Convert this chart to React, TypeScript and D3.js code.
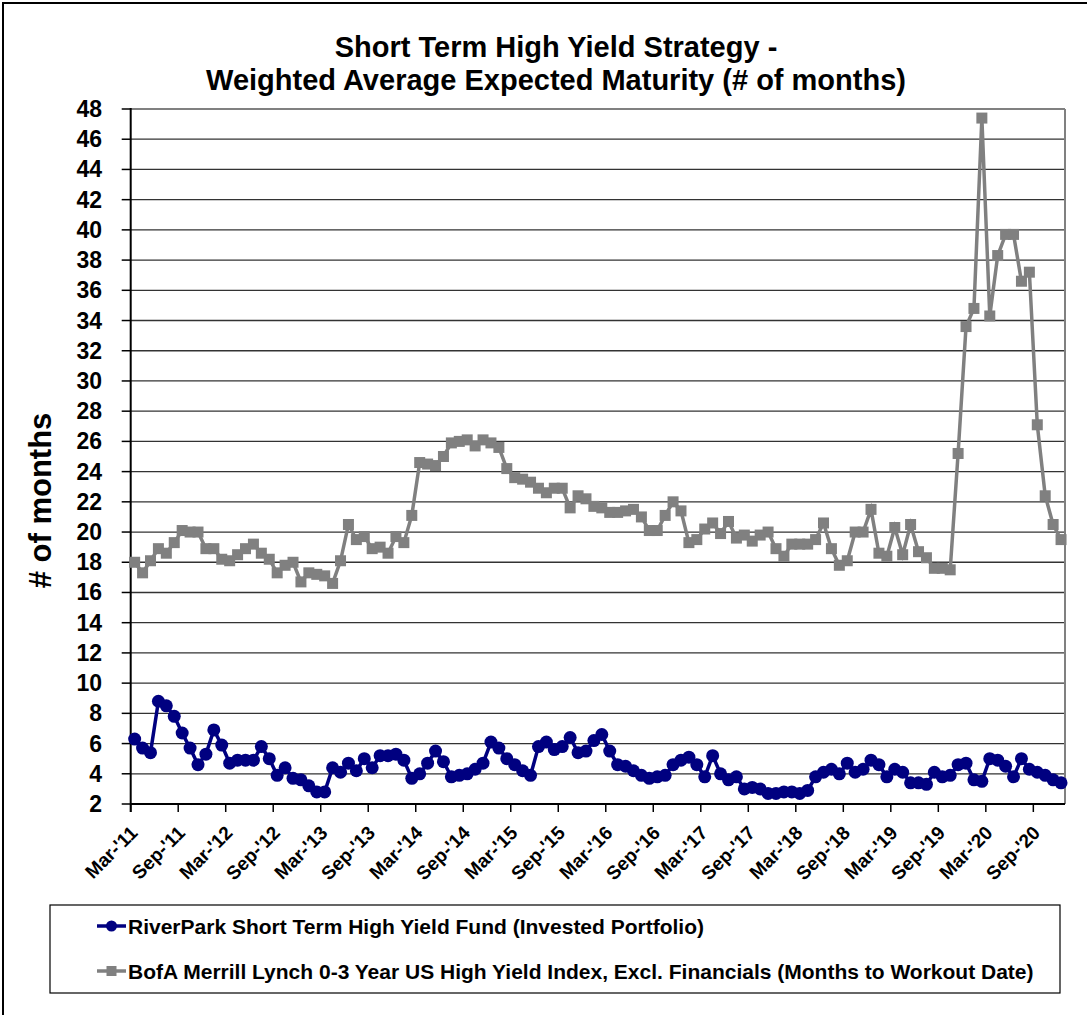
import * as d3 from 'd3'
import React, { useRef, useEffect } from 'react'

// Months Mar '11 .. Dec '20 (one point per month)
const months = d3.timeMonth.range(new Date(2011, 2, 1), new Date(2021, 0, 1))

// RiverPark Short Term High Yield Fund (Invested Portfolio)
const riverPark = [
  6.3, 5.7, 5.4, 8.8, 8.5, 7.8, 6.7, 5.7, 4.6, 5.3, 6.9, 5.9,
  4.7, 4.9, 4.9, 4.9, 5.8, 5.0, 3.9, 4.4, 3.7, 3.6, 3.2, 2.8,
  2.8, 4.4, 4.1, 4.7, 4.2, 5.0, 4.4, 5.2, 5.2, 5.3, 4.9, 3.7,
  4.0, 4.7, 5.5, 4.8, 3.8, 3.9, 4.0, 4.3, 4.7, 6.1, 5.7, 5.0,
  4.6, 4.2, 3.9, 5.8, 6.1, 5.6, 5.8, 6.4, 5.4, 5.5, 6.2, 6.6,
  5.5, 4.6, 4.5, 4.2, 3.9, 3.7, 3.8, 3.9, 4.6, 4.9, 5.1, 4.6,
  3.8, 5.2, 4.0, 3.6, 3.8, 3.0, 3.1, 3.0, 2.7, 2.7, 2.8, 2.8,
  2.7, 2.9, 3.8, 4.1, 4.3, 4.0, 4.7, 4.1, 4.3, 4.9, 4.6, 3.8,
  4.3, 4.1, 3.4, 3.4, 3.3, 4.1, 3.8, 3.9, 4.6, 4.7, 3.6, 3.5,
  5.0, 4.9, 4.5, 3.8, 5.0, 4.3, 4.1, 3.9, 3.6, 3.4,
]

// BofA Merrill Lynch 0-3 Year US High Yield Index, Excl. Financials
const bofa = [
  18.0, 17.3, 18.1, 18.9, 18.6, 19.3, 20.1, 20.0, 20.0, 18.9, 18.9, 18.2,
  18.1, 18.5, 18.9, 19.2, 18.6, 18.2, 17.3, 17.8, 18.0, 16.7, 17.3, 17.2,
  17.1, 16.6, 18.1, 20.5, 19.5, 19.7, 18.9, 19.0, 18.6, 19.7, 19.3, 21.1,
  24.6, 24.5, 24.4, 25.0, 25.9, 26.0, 26.1, 25.7, 26.1, 25.9, 25.6, 24.2,
  23.6, 23.5, 23.3, 22.9, 22.6, 22.9, 22.9, 21.6, 22.4, 22.2, 21.7, 21.6,
  21.3, 21.3, 21.4, 21.5, 21.0, 20.1, 20.1, 21.1, 22.0, 21.4, 19.3, 19.5,
  20.2, 20.6, 19.9, 20.7, 19.6, 19.8, 19.4, 19.8, 20.0, 18.9, 18.4, 19.2,
  19.2, 19.2, 19.5, 20.6, 18.9, 17.8, 18.1, 20.0, 20.0, 21.5, 18.6, 18.4,
  20.3, 18.5, 20.5, 18.7, 18.3, 17.6, 17.6, 17.5, 25.2, 33.6, 34.8, 47.4,
  34.3, 38.3, 39.7, 39.7, 36.6, 37.2, 27.1, 22.4, 20.5, 19.5,
]

const yTicks = d3.range(2, 49, 2)
const tickMonths = [2, 8] // Mar, Sep
const titleLines = ['Short Term High Yield Strategy -', 'Weighted Average Expected Maturity (# of months)']
const legendLabels = [
  'RiverPark Short Term High Yield Fund (Invested Portfolio)',
  'BofA Merrill Lynch 0-3 Year US High Yield Index, Excl. Financials (Months to Workout Date)',
]

const FONT = '"Liberation Sans", Arial, sans-serif'
const BLUE = '#000080'
const GRAY = '#808080'

const App = () => {
  const ref = useRef<SVGSVGElement | null>(null)

  useEffect(() => {
    const svg = d3.select(ref.current)
    svg.selectAll('*').remove()

    const left = 130.7
    const right = 1065
    const top = 109
    const bottom = 804

    const x = d3.scaleBand<number>().domain(d3.range(months.length)).range([left, right]).padding(0)
    const cx = (i: number) => (x(i) as number) + x.bandwidth() / 2
    const y = d3.scaleLinear().domain([2, 48]).range([bottom, top])

    svg.append('rect').attr('width', 1087).attr('height', 1015).attr('fill', '#fff')
    // outer frame
    svg.append('rect')
      .attr('x', 3).attr('y', 3).attr('width', 1100).attr('height', 1030)
      .attr('fill', 'none').attr('stroke', '#000').attr('stroke-width', 2)

    // title
    titleLines.forEach((t, k) => {
      svg.append('text')
        .attr('x', 556).attr('y', 57 + k * 33)
        .attr('text-anchor', 'middle')
        .style('font-family', FONT).style('font-weight', 'bold').style('font-size', '29px')
        .text(t)
    })

    // gridlines
    svg.selectAll('.grid')
      .data(yTicks.filter(v => v !== 2 && v !== 48))
      .enter().append('line')
      .attr('x1', left).attr('x2', right)
      .attr('y1', d => y(d)).attr('y2', d => y(d))
      .attr('stroke', '#333').attr('stroke-width', 1.3)

    // plot border (top / right)
    svg.append('line').attr('x1', left).attr('x2', right).attr('y1', top).attr('y2', top)
      .attr('stroke', GRAY).attr('stroke-width', 2)
    svg.append('line').attr('x1', right).attr('x2', right).attr('y1', top).attr('y2', bottom)
      .attr('stroke', GRAY).attr('stroke-width', 2)

    // y axis
    svg.append('line').attr('x1', left).attr('x2', left).attr('y1', top - 1).attr('y2', bottom + 8)
      .attr('stroke', '#000').attr('stroke-width', 2)
    yTicks.forEach(v => {
      svg.append('line').attr('x1', left - 9).attr('x2', left).attr('y1', y(v)).attr('y2', y(v))
        .attr('stroke', '#000').attr('stroke-width', 1.5)
      svg.append('text')
        .attr('x', 102).attr('y', y(v))
        .attr('text-anchor', 'end').attr('dominant-baseline', 'central')
        .style('font-family', FONT).style('font-weight', 'bold').style('font-size', '23px')
        .text(v)
    })
    svg.append('text')
      .attr('transform', `translate(51, ${(top + bottom) / 2 + 44}) rotate(-90)`)
      .attr('text-anchor', 'middle')
      .style('font-family', FONT).style('font-weight', 'bold').style('font-size', '31px')
      .text('# of months')

    // x axis
    svg.append('line').attr('x1', left).attr('x2', right).attr('y1', bottom).attr('y2', bottom)
      .attr('stroke', '#000').attr('stroke-width', 2)
    const fmt = d3.timeFormat("%b-'%y")
    months.forEach((m, i) => {
      if (!tickMonths.includes(m.getMonth())) return
      const tx = x(i) as number
      svg.append('line').attr('x1', tx).attr('x2', tx).attr('y1', bottom).attr('y2', bottom + 8)
        .attr('stroke', '#000').attr('stroke-width', 1.5)
      svg.append('text')
        .attr('transform', `translate(${tx + 8}, ${bottom + 30}) rotate(-45)`)
        .attr('text-anchor', 'end')
        .style('font-family', FONT).style('font-weight', 'bold').style('font-size', '19px')
        .text(fmt(m))
    })

    const line = d3.line<number>().x((d, i) => cx(i)).y(d => y(d))

    // BofA series
    svg.append('path').datum(bofa).attr('d', line)
      .attr('fill', 'none').attr('stroke', GRAY).attr('stroke-width', 3.5)
    svg.selectAll('.sq').data(bofa).enter().append('rect')
      .attr('x', (d, i) => cx(i) - 5.5).attr('y', d => y(d) - 5.5)
      .attr('width', 11).attr('height', 11).attr('fill', GRAY)

    // RiverPark series
    svg.append('path').datum(riverPark).attr('d', line)
      .attr('fill', 'none').attr('stroke', BLUE).attr('stroke-width', 3.5)
    svg.selectAll('.dot').data(riverPark).enter().append('circle')
      .attr('cx', (d, i) => cx(i)).attr('cy', d => y(d)).attr('r', 6.5).attr('fill', BLUE)

    // legend
    svg.append('rect').attr('x', 50).attr('y', 905).attr('width', 1010).attr('height', 88)
      .attr('fill', '#fff').attr('stroke', '#000').attr('stroke-width', 1.2)
    legendLabels.forEach((label, k) => {
      const ly = 926 + k * 45
      const color = k === 0 ? BLUE : GRAY
      svg.append('line').attr('x1', 97).attr('x2', 126).attr('y1', ly).attr('y2', ly)
        .attr('stroke', color).attr('stroke-width', 3.5)
      if (k === 0) {
        svg.append('circle').attr('cx', 111.5).attr('cy', ly).attr('r', 5.5).attr('fill', color)
      } else {
        svg.append('rect').attr('x', 106.5).attr('y', ly - 5).attr('width', 10).attr('height', 10).attr('fill', color)
      }
      svg.append('text')
        .attr('x', 128).attr('y', ly)
        .attr('dominant-baseline', 'central')
        .style('font-family', FONT).style('font-weight', 'bold').style('font-size', '21px')
        .text(label)
    })
  }, [])

  return (
    <svg ref={ref} width={1087} height={1015} style={{ position: 'absolute', left: 0, top: 0 }} />
  )
}

export default App
